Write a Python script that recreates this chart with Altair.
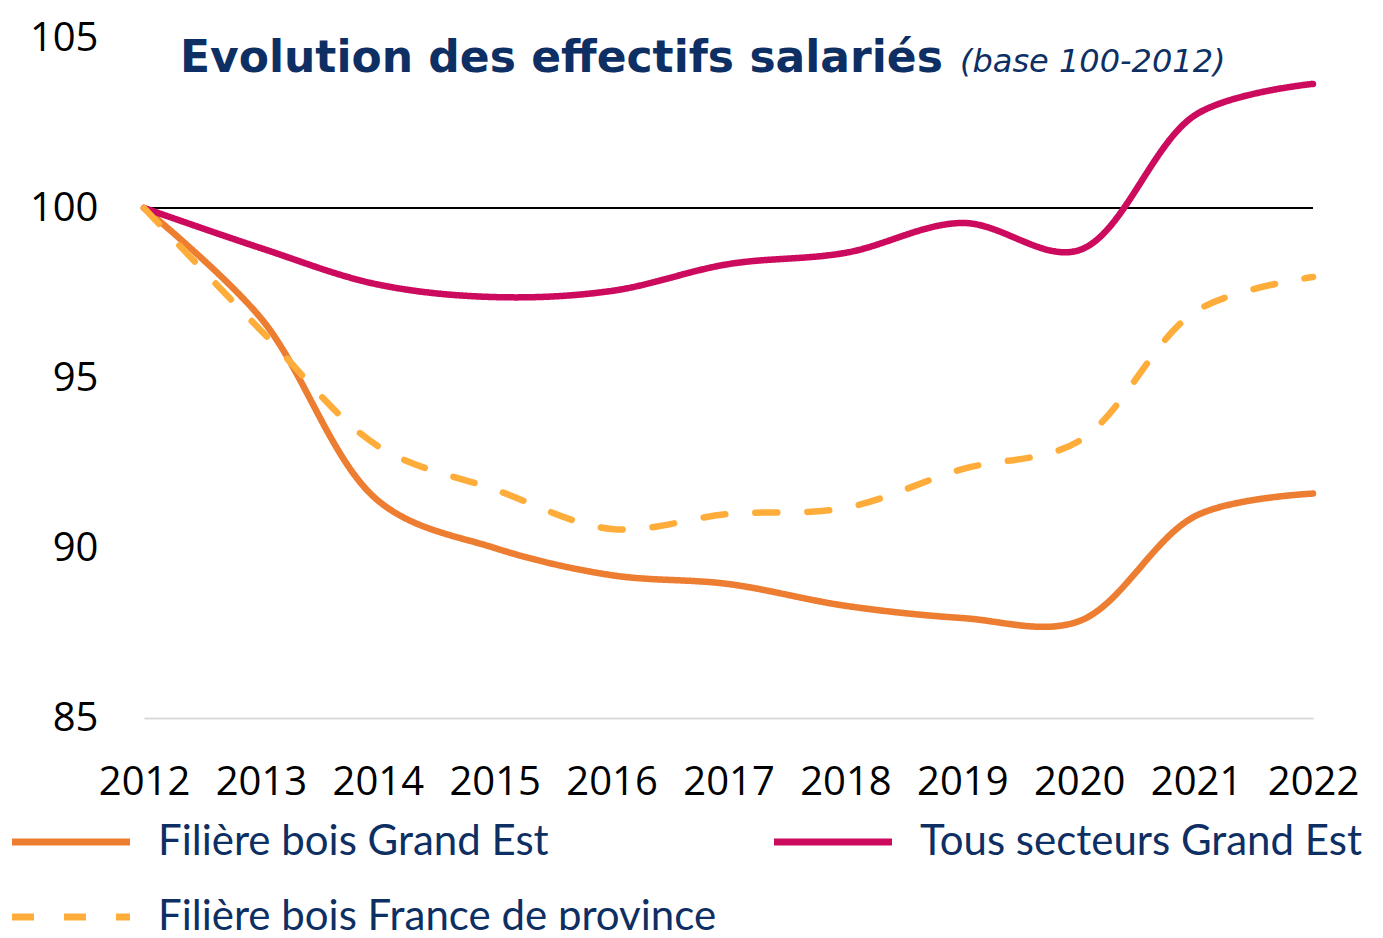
import altair as alt
import pandas as pd

years = [2012, 2013, 2014, 2015, 2016, 2017, 2018, 2019, 2020, 2021, 2022]
bois_ge = [100, 96.76, 91.4, 90.0, 89.2, 88.94, 88.3, 87.94, 87.85, 90.95, 91.6]
tous_ge = [100, 98.82, 97.75, 97.38, 97.56, 98.35, 98.68, 99.56, 98.76, 102.75, 103.65]
bois_fr = [100, 96.4, 93.0, 91.72, 90.56, 91.0, 91.18, 92.32, 93.15, 96.97, 97.97]

series_names = ["Filière bois Grand Est", "Tous secteurs Grand Est", "Filière bois France de province"]
series_colors = ["#ED7D31", "#CC0A5E", "#FFAD3A"]
series_dash = [[1, 0], [1, 0], [22, 30]]
y_ticks = [85, 90, 95, 100, 105]

title_main = "Evolution des effectifs salariés"
title_sub = "(base 100-2012)"

navy = "#0E2F63"

rows = []
for name, vals in zip(series_names, [bois_ge, tous_ge, bois_fr]):
    for yr, v in zip(years, vals):
        rows.append({"annee": yr, "valeur": v, "serie": name})
df = pd.DataFrame(rows)

legend = alt.Legend(title=None)

x_enc = alt.X("annee:Q", scale=alt.Scale(domain=[2012, 2022], nice=False, zero=False),
              axis=alt.Axis(values=years, format="d", title=None, labelFont="Open Sans",
                            labelFontSize=40, labelColor="#000000", labelPadding=44,
                            labelFlush=False, labelOverlap=False, ticks=False, grid=False,
                            domainColor="#D9D9D9", domainWidth=2))
y_enc = alt.Y("valeur:Q", scale=alt.Scale(domain=[85, 105], nice=False, zero=False),
              axis=alt.Axis(values=y_ticks, title=None, labelFont="Open Sans",
                            labelFontSize=40, labelColor="#000000", labelPadding=46,
                            ticks=False, grid=False, domain=False))

lines = alt.Chart(df).mark_line(interpolate="catmull-rom", strokeWidth=6.5, strokeCap="round").encode(
    x=x_enc,
    y=y_enc,
    color=alt.Color("serie:N", scale=alt.Scale(domain=series_names, range=series_colors), legend=legend),
    strokeDash=alt.StrokeDash("serie:N", scale=alt.Scale(domain=series_names, range=series_dash), legend=legend),
)

rule = alt.Chart(pd.DataFrame({"v": [100]})).mark_rule(color="#000000", strokeWidth=2).encode(
    y=alt.Y("v:Q")
)

t1 = alt.Chart(pd.DataFrame({"t": [title_main]})).mark_text(
    align="left", baseline="alphabetic", font="DejaVu Sans", fontWeight="bold", fontSize=44,
    color=navy
).encode(text="t:N", x=alt.value(36), y=alt.value(34))

t2 = alt.Chart(pd.DataFrame({"t": [title_sub]})).mark_text(
    align="left", baseline="alphabetic", font="DejaVu Sans", fontWeight=200, fontStyle="italic",
    fontSize=32, color=navy
).encode(text="t:N", x=alt.value(816), y=alt.value(34))

chart = alt.layer(rule, lines, t1, t2).properties(
    width=1169, height=680,
    autosize=alt.AutoSizeParams(type="none"),
    padding={"left": 136, "top": 30, "right": 62, "bottom": 212},
).configure_view(stroke=None).configure_legend(
    orient="none", legendX=-106, legendY=771, columns=2, direction="horizontal",
    columnPadding=43, rowPadding=21,
    symbolType="M-2,0H2", symbolSize=3481, symbolStrokeWidth=7, labelFont="Lato",
    labelFontSize=42, labelColor=navy, labelOffset=54, labelLimit=1000, padding=0,
)

chart.save("out.html", embed_options={"renderer": "svg", "actions": False})
